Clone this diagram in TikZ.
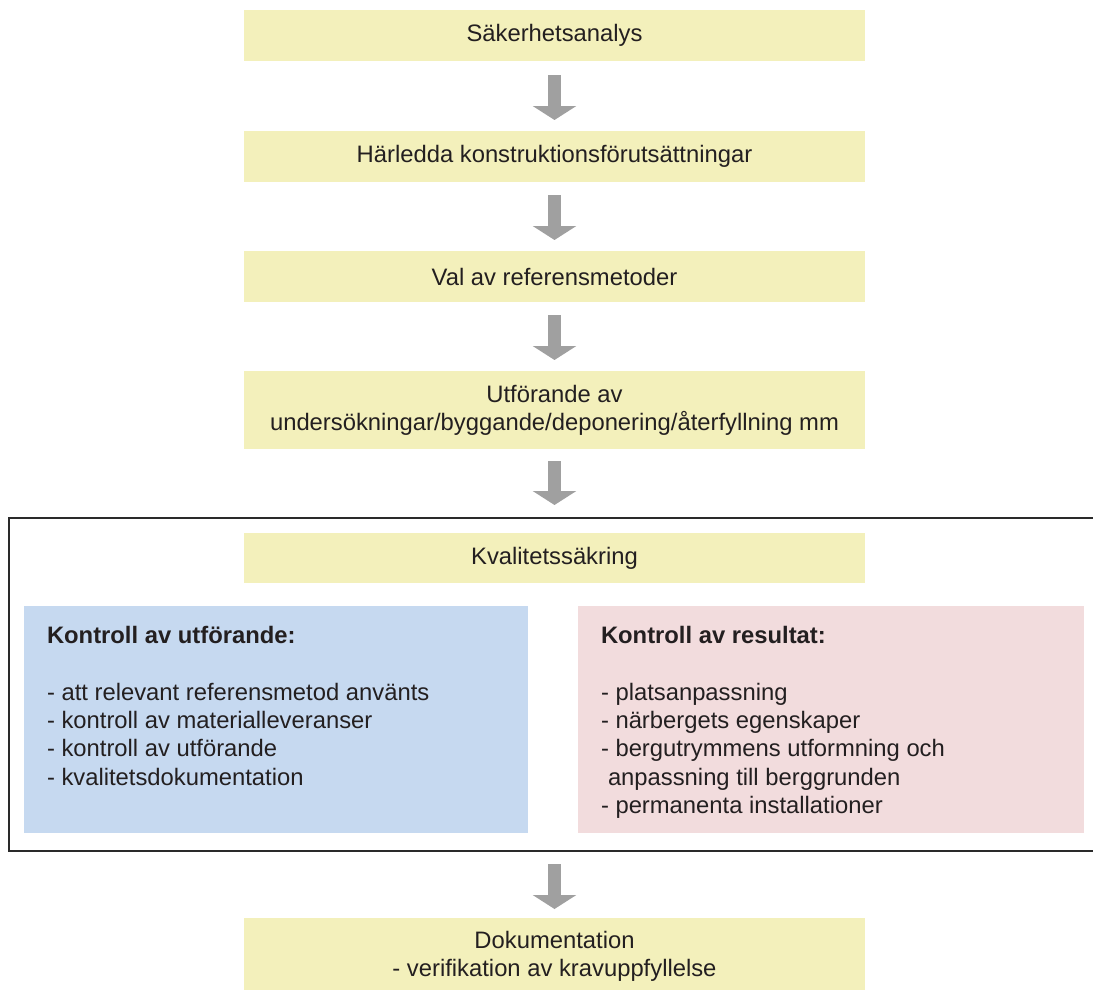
\documentclass[tikz,border=0pt]{standalone}
\usepackage{fontspec}
\setmainfont{Liberation Sans}
\usetikzlibrary{arrows.meta}
\definecolor{yel}{HTML}{F3F0BB}
\definecolor{blu}{HTML}{C6D9F0}
\definecolor{pnk}{HTML}{F2DCDD}
\definecolor{arr}{HTML}{A0A0A0}
\definecolor{txt}{HTML}{231F20}
\definecolor{frm}{HTML}{2A2A2A}
\tikzset{
  ybox/.style={fill=yel, draw=none, minimum width=621pt, align=center},
  cbox/.style={draw=none},
  blockarrow/.style={draw=arr, line width=13pt, line cap=butt, -{Triangle[width=43pt,length=14pt]}},
  lline/.style={anchor=base west},
  frameline/.style={draw=frm, line width=1.2pt, line cap=rect},
}
\begin{document}
\begin{tikzpicture}[x=1pt,y=-1pt, every node/.style={inner sep=0pt, outer sep=0pt, text=txt, font=\fontsize{23.8}{28.3}\selectfont}]
\useasboundingbox (0,0) rectangle (1093,989);
% yellow boxes
\node[ybox, minimum height=51pt] (b1) at (554.5,35.5) {Säkerhetsanalys};
\node[ybox, minimum height=51pt] (b2) at (554.5,156.5) {Härledda konstruktionsförutsättningar};
\node[ybox, minimum height=51pt] (b3) at (554.5,276.5) {Val av referensmetoder};
\node[ybox, minimum height=78pt] (b4) at (554.5,410) {Utförande av\\undersökningar/byggande/deponering/återfyllning mm};
% frame (open to the right, it runs off the picture)
\node[draw=none, minimum width=1084pt, minimum height=333pt, anchor=north west] (frame) at (9,518) {};
\draw[frameline] (frame.north east) -- (frame.north west) -- (frame.south west) -- (frame.south east);
\node[ybox, minimum height=50pt] (b5) at (554.5,558) {Kvalitetssäkring};
% colored boxes
\node[cbox, fill=blu, minimum width=504pt, minimum height=227pt, anchor=north west] (blue) at (24,606) {};
\node[cbox, fill=pnk, minimum width=506pt, minimum height=227pt, anchor=north west] (pink) at (578,606) {};
% bottom box
\node[ybox, minimum height=76pt] (b6) at (554.5,956) {Dokumentation\\- verifikation av kravuppfyllelse};
% texts in blue box
\node[lline, font=\fontsize{23.8}{28.3}\selectfont\bfseries] (bh) at (47,643) {Kontroll av utförande:};
\node[lline] (bl1) at (47,700) {- att relevant referensmetod använts};
\node[lline] (bl2) at (47,728.3) {- kontroll av materialleveranser};
\node[lline] (bl3) at (47,756.6) {- kontroll av utförande};
\node[lline] (bl4) at (47,785) {- kvalitetsdokumentation};
% texts in pink box
\node[lline, font=\fontsize{23.8}{28.3}\selectfont\bfseries] (ph) at (601,643) {Kontroll av resultat:};
\node[lline] (pl1) at (601,700) {- platsanpassning};
\node[lline] (pl2) at (601,728.3) {- närbergets egenskaper};
\node[lline] (pl3) at (601,756.6) {- bergutrymmens utformning och};
\node[lline] (pl4) at (608,785) {anpassning till berggrunden};
\node[lline] (pl5) at (601,813.3) {- permanenta installationer};
% arrows
\draw[blockarrow] ([yshift=-14pt]b1.south) -- ([yshift=11pt]b2.north);
\draw[blockarrow] ([yshift=-13pt]b2.south) -- ([yshift=11pt]b3.north);
\draw[blockarrow] ([yshift=-13pt]b3.south) -- ([yshift=11pt]b4.north);
\draw[blockarrow] ([yshift=-12pt]b4.south) -- ([yshift=13pt]frame.north -| b4.south);
\draw[blockarrow] ([yshift=-13pt]frame.south -| b4.south) -- ([yshift=9pt]b6.north);
\end{tikzpicture}
\end{document}
